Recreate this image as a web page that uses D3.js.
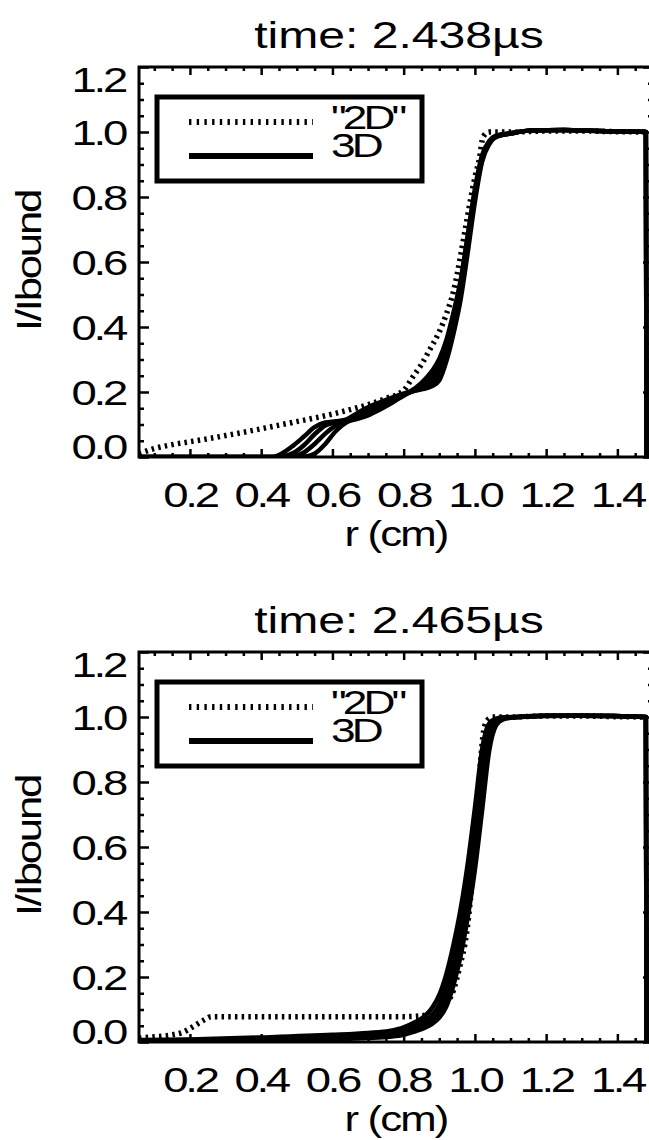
<!DOCTYPE html>
<html>
<head>
<meta charset="utf-8">
<script src="https://cdn.jsdelivr.net/npm/d3@7"></script>
<style>
  html, body { margin: 0; padding: 0; background: #fff; }
  svg { display: block; }
  text { font-family: "Liberation Sans", Arial, Helvetica, sans-serif; fill: #000; }
</style>
</head>
<body>
<svg id="chart" width="649" height="1140"></svg>
<script>
// ---------------- DATA ----------------
const titles = ["time: 2.438\u00b5s", "time: 2.465\u00b5s"];
const xLabel = "r (cm)";
const yLabel = "I/Ibound";
const legendLabels = ['"2D"', "3D"];
const xTickValues = [0.2, 0.4, 0.6, 0.8, 1.0, 1.2, 1.4];
const xTickLabels = ["0.2", "0.4", "0.6", "0.8", "1.0", "1.2", "1.4"];
const yTickValues = [0.0, 0.2, 0.4, 0.6, 0.8, 1.0, 1.2];
const yTickLabels = ["0.0", "0.2", "0.4", "0.6", "0.8", "1.0", "1.2"];
const xDomain = [0.057, 1.5];
const yDomain = [0, 1.2];

// Panel 1 (t = 2.438 us)
const r2dTop = [0.057, 0.10, 0.15, 0.20, 0.25, 0.30, 0.35, 0.40, 0.45, 0.50, 0.55, 0.60, 0.65, 0.70, 0.75, 0.80, 0.826, 0.85, 0.873, 0.90, 0.92, 0.94, 0.96, 0.976, 1.00, 1.013, 1.023, 1.04, 1.10, 1.20, 1.30, 1.40, 1.48];
const v2dTop = [0.010, 0.026, 0.038, 0.047, 0.056, 0.066, 0.076, 0.087, 0.098, 0.109, 0.120, 0.132, 0.146, 0.161, 0.180, 0.205, 0.247, 0.285, 0.330, 0.385, 0.440, 0.510, 0.620, 0.720, 0.860, 0.920, 0.985, 1.000, 1.000, 1.003, 1.003, 1.001, 1.000];

const r3dTop = [0.057, 0.40, 0.43, 0.46, 0.49, 0.52, 0.55, 0.58, 0.61, 0.64, 0.67, 0.70, 0.73, 0.76, 0.79, 0.82, 0.85, 0.88, 0.90, 0.92, 0.94, 0.96, 0.98, 1.00, 1.02, 1.04, 1.06, 1.10, 1.16, 1.25, 1.35, 1.48, 1.482];
const v3dTopA = [0, 0, 0.000, 0.012, 0.035, 0.063, 0.092, 0.106, 0.110, 0.116, 0.135, 0.153, 0.167, 0.180, 0.192, 0.203, 0.228, 0.265, 0.302, 0.360, 0.445, 0.545, 0.685, 0.825, 0.928, 0.972, 0.989, 0.996, 1.005, 1.006, 1.003, 1.000, 0];
const v3dTopB = [0, 0, 0, 0.002, 0.012, 0.036, 0.070, 0.097, 0.107, 0.113, 0.126, 0.143, 0.159, 0.175, 0.189, 0.200, 0.217, 0.244, 0.280, 0.340, 0.425, 0.530, 0.670, 0.812, 0.921, 0.968, 0.987, 0.996, 1.005, 1.006, 1.003, 1.000, 0];
const v3dTopC = [0, 0, 0, 0, 0.002, 0.014, 0.040, 0.072, 0.097, 0.110, 0.121, 0.136, 0.152, 0.169, 0.186, 0.200, 0.212, 0.228, 0.258, 0.315, 0.400, 0.505, 0.650, 0.800, 0.915, 0.965, 0.986, 0.995, 1.005, 1.006, 1.003, 1.000, 0];
const v3dTopD = [0, 0, 0, 0, 0, 0.001, 0.010, 0.040, 0.080, 0.107, 0.117, 0.128, 0.144, 0.162, 0.182, 0.200, 0.208, 0.218, 0.236, 0.295, 0.380, 0.485, 0.630, 0.785, 0.908, 0.962, 0.985, 0.995, 1.005, 1.006, 1.003, 1.000, 0];

// Panel 2 (t = 2.465 us)
const r2dBot = [0.057, 0.10, 0.15, 0.18, 0.21, 0.24, 0.26, 0.30, 0.40, 0.50, 0.60, 0.70, 0.80, 0.845, 0.88, 0.91, 0.94, 0.957, 0.976, 1.00, 1.015, 1.025, 1.035, 1.05, 1.10, 1.20, 1.30, 1.40, 1.48];
const v2dBot = [0.012, 0.016, 0.022, 0.030, 0.048, 0.068, 0.078, 0.078, 0.078, 0.078, 0.078, 0.078, 0.078, 0.080, 0.090, 0.109, 0.160, 0.230, 0.330, 0.600, 0.850, 0.960, 0.990, 1.000, 1.000, 1.003, 1.003, 1.001, 1.000];

const r3dBot = [0.057, 0.20, 0.40, 0.60, 0.70, 0.76, 0.80, 0.83, 0.86, 0.88, 0.90, 0.92, 0.94, 0.96, 0.98, 1.00, 1.02, 1.04, 1.06, 1.08, 1.12, 1.20, 1.30, 1.48, 1.482];
const v3dBotA = [0.006, 0.008, 0.014, 0.022, 0.028, 0.034, 0.045, 0.060, 0.080, 0.105, 0.145, 0.210, 0.300, 0.410, 0.550, 0.720, 0.900, 0.980, 0.995, 0.999, 1.000, 1.004, 1.004, 1.000, 0];
const v3dBotB = [0.004, 0.006, 0.011, 0.018, 0.022, 0.027, 0.036, 0.050, 0.065, 0.082, 0.115, 0.170, 0.255, 0.355, 0.485, 0.640, 0.820, 0.955, 0.990, 0.997, 1.000, 1.004, 1.004, 1.000, 0];
const v3dBotC = [0.003, 0.004, 0.008, 0.014, 0.018, 0.022, 0.030, 0.040, 0.052, 0.066, 0.090, 0.135, 0.210, 0.305, 0.425, 0.575, 0.760, 0.925, 0.982, 0.995, 1.000, 1.004, 1.004, 1.000, 0];
const v3dBotD = [0.002, 0.002, 0.004, 0.008, 0.012, 0.016, 0.022, 0.032, 0.044, 0.056, 0.075, 0.110, 0.175, 0.265, 0.385, 0.530, 0.710, 0.895, 0.975, 0.993, 1.000, 1.003, 1.004, 1.000, 0];

const panels = [
  { title: titles[0], top: 67, r2d: r2dTop, v2d: v2dTop, r3d: r3dTop, v3d: [v3dTopA, v3dTopB, v3dTopC, v3dTopD] },
  { title: titles[1], top: 652, r2d: r2dBot, v2d: v2dBot, r3d: r3dBot, v3d: [v3dBotA, v3dBotB, v3dBotC, v3dBotD] }
];

// ---------------- DRAW ----------------
const svg = d3.select("#chart");
const LEFT = 139, RIGHT = 653, PH = 390;

function sText(parent, x, y, str, o) {
  const opt = Object.assign({ size: 34, sx: 1.4, ls: 0, anchor: "middle", rotate: 0 }, o || {});
  const g = parent.append("g")
    .attr("transform", `translate(${x},${y}) rotate(${opt.rotate}) scale(${opt.sx},1)`);
  g.append("text")
    .attr("text-anchor", opt.anchor)
    .attr("font-size", opt.size)
    .attr("letter-spacing", opt.ls)
    .text(str);
  return g;
}

const xMinor = d3.range(0.1, 1.4999, 0.05).map(v => Math.round(v * 100) / 100).filter(v => !xTickValues.some(t => Math.abs(t - v) < 1e-6));
const yMinor = d3.range(0.05, 1.2, 0.05).map(v => Math.round(v * 100) / 100).filter(v => !yTickValues.some(t => Math.abs(t - v) < 1e-6));

panels.forEach((p, i) => {
  const top = p.top, bottom = top + PH;
  const x = d3.scaleLinear().domain(xDomain).range([LEFT, RIGHT]);
  const y = d3.scaleLinear().domain(yDomain).range([bottom, top]);
  const g = svg.append("g");

  const clipId = "clip" + i;
  svg.append("clipPath").attr("id", clipId)
    .append("rect").attr("x", LEFT).attr("y", top - 4).attr("width", RIGHT - LEFT).attr("height", PH + 4);

  // title
  sText(g, 399, top - 19, p.title, { size: 37, sx: 1.3 });

  // curves
  const line = d3.line().x(d => x(d[0])).y(d => y(d[1])).curve(d3.curveMonotoneX);
  const cg = g.append("g").attr("clip-path", `url(#${clipId})`);
  p.v3d.forEach(vals => {
    cg.append("path")
      .datum(p.r3d.map((r, k) => [r, vals[k]]))
      .attr("d", line)
      .attr("fill", "none").attr("stroke", "#000").attr("stroke-width", 4.5)
      .attr("stroke-linejoin", "round");
  });
  cg.append("path")
    .datum(p.r2d.map((r, k) => [r, p.v2d[k]]))
    .attr("d", line)
    .attr("fill", "none").attr("stroke", "#000").attr("stroke-width", 5.5)
    .attr("stroke-dasharray", "2.5,4.2");

  // axes ticks
  const tickStyle = sel => {
    sel.select(".domain").remove();
    sel.selectAll(".tick line").attr("stroke", "#000").attr("stroke-width", 2.5);
    sel.selectAll(".tick text").remove();
  };
  g.append("g").attr("transform", `translate(0,${bottom})`)
    .call(d3.axisBottom(x).tickValues(xTickValues).tickSize(-8).tickFormat("")).call(tickStyle);
  g.append("g").attr("transform", `translate(0,${bottom})`)
    .call(d3.axisBottom(x).tickValues(xMinor).tickSize(-4).tickFormat("")).call(tickStyle);
  g.append("g").attr("transform", `translate(0,${top})`)
    .call(d3.axisTop(x).tickValues(xTickValues).tickSize(-8).tickFormat("")).call(tickStyle);
  g.append("g").attr("transform", `translate(0,${top})`)
    .call(d3.axisTop(x).tickValues(xMinor).tickSize(-4).tickFormat("")).call(tickStyle);
  g.append("g").attr("transform", `translate(${LEFT},0)`)
    .call(d3.axisLeft(y).tickValues(yTickValues).tickSize(-10).tickFormat("")).call(tickStyle);
  g.append("g").attr("transform", `translate(${LEFT},0)`)
    .call(d3.axisLeft(y).tickValues(yMinor).tickSize(-5).tickFormat("")).call(tickStyle);
  g.append("g").attr("transform", `translate(${RIGHT},0)`)
    .call(d3.axisRight(y).tickValues(yTickValues).tickSize(-10).tickFormat("")).call(tickStyle);
  g.append("g").attr("transform", `translate(${RIGHT},0)`)
    .call(d3.axisRight(y).tickValues(yMinor).tickSize(-5).tickFormat("")).call(tickStyle);

  // frame
  g.append("rect").attr("x", LEFT).attr("y", top).attr("width", RIGHT - LEFT).attr("height", PH)
    .attr("fill", "none").attr("stroke", "#000").attr("stroke-width", 3);

  // tick labels
  xTickValues.forEach((v, k) => {
    sText(g, x(v), bottom + 50, xTickLabels[k], { size: 35, sx: 1.3, ls: -2.5 });
  });
  yTickValues.forEach((v, k) => {
    const cy = Math.max(top + 12, Math.min(bottom - 11, y(v)));
    sText(g, 125, cy + 12.5, yTickLabels[k], { size: 35, sx: 1.3, ls: -2.5, anchor: "end" });
  });

  // axis titles
  sText(g, 396, bottom + 89, xLabel, { size: 35, sx: 1.25, ls: -1.5 });
  sText(g, 41, top + 194, yLabel, { size: 35, sx: 1.25, ls: -1.8, rotate: -90 });

  // legend
  const lg = g.append("g");
  lg.append("rect").attr("x", 157).attr("y", top + 30).attr("width", 265).attr("height", 84)
    .attr("fill", "#fff").attr("stroke", "#000").attr("stroke-width", 5);
  lg.append("line").attr("x1", 189).attr("x2", 313).attr("y1", top + 55).attr("y2", top + 55)
    .attr("stroke", "#000").attr("stroke-width", 6).attr("stroke-dasharray", "2.4,5.3");
  lg.append("line").attr("x1", 189).attr("x2", 313).attr("y1", top + 89).attr("y2", top + 89)
    .attr("stroke", "#000").attr("stroke-width", 6);
  sText(lg, 331, top + 62, legendLabels[0], { size: 34, sx: 1.3, ls: -3, anchor: "start" });
  sText(lg, 331, top + 90, legendLabels[1], { size: 34, sx: 1.3, ls: -3, anchor: "start" });
});
</script>
</body>
</html>
